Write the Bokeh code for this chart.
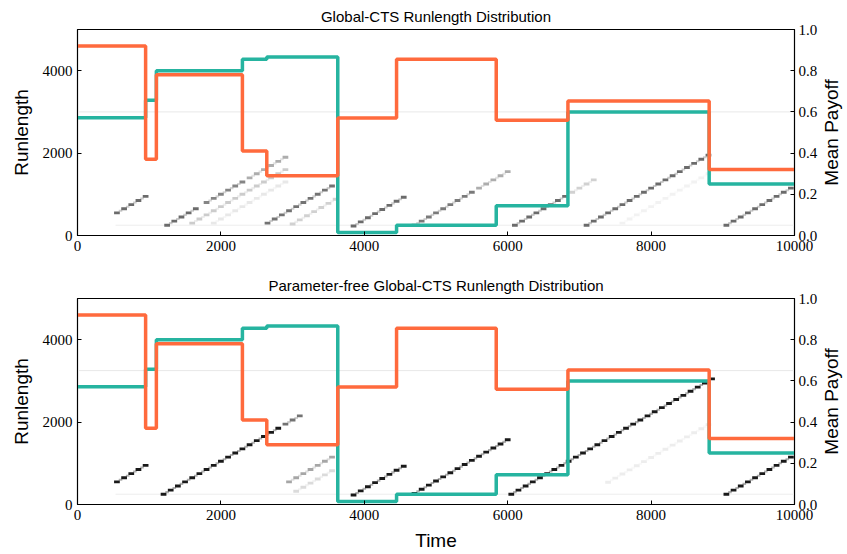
import math

from bokeh.plotting import figure
from bokeh.models import (Range1d, LinearAxis, FixedTicker, PrintfTickFormatter,
                          ColumnDataSource, Label)
from bokeh.layouts import column, row
from bokeh.embed import file_html
from bokeh.resources import INLINE

# Times at which the arms' mean payoffs change (last entry closes the final step)
change_times = [0, 950, 1100, 2300, 2640, 3630, 4450, 5840, 6840, 8810, 10000]
orange_payoff = [0.92, 0.37, 0.78, 0.41, 0.29, 0.57, 0.855, 0.56, 0.653, 0.32, 0.32]
teal_payoff = [0.572, 0.657, 0.80, 0.855, 0.867, 0.015, 0.05, 0.145, 0.60, 0.25, 0.25]

# Runlength traces: (changepoint, first time, last time, darkness 0..1)
gcts_traces = [
    (0, 550, 950, 0.58),
    (1000, 1250, 1700, 0.58),
    (1000, 1800, 2300, 0.48),
    (1000, 2400, 2900, 0.32),
    (1300, 1600, 2900, 0.20),
    (1600, 1900, 2900, 0.09),
    (2350, 2650, 3600, 0.55),
    (2720, 3000, 3600, 0.18),
    (3620, 3850, 4600, 0.58),
    (4450, 4700, 5500, 0.52),
    (4450, 5600, 6000, 0.32),
    (5850, 6100, 6850, 0.58),
    (5850, 6900, 7200, 0.18),
    (6850, 7100, 8850, 0.58),
    (7300, 7600, 8800, 0.05),
    (8800, 9050, 10000, 0.58),
]
free_traces = [
    (0, 550, 950, 0.90),
    (950, 1200, 2800, 0.90),
    (950, 2900, 3100, 0.55),
    (2400, 2950, 3600, 0.35),
    (2730, 3050, 3600, 0.14),
    (3620, 3850, 4600, 0.90),
    (4430, 4700, 6000, 0.90),
    (5800, 6050, 8850, 0.90),
    (6860, 7400, 8800, 0.07),
    (8800, 9050, 10000, 0.90),
]
# Faint constant rows of the distribution: (runlength, from, to, darkness)
gcts_rows = [(250, 530, 10000, 0.07), (3000, 0, 10000, 0.09)]
free_rows = [(250, 530, 10000, 0.07), (3250, 0, 10000, 0.09)]

ORANGE = "#FF6A3D"
TEAL = "#26B4A0"
SANS = "Liberation Sans"
SERIF = "Liberation Serif"
MAIN_W = 822


def gray(d):
    v = int(round(255 * (1 - d)))
    return "#%02x%02x%02x" % (v, v, v)


def trace_cells(traces):
    # each time bin gets a dark cell plus a lighter cell bridging to the next step
    xs, ys, cs, hx, hy, hc = [], [], [], [], [], []
    for cp, t0, t1, dark in traces:
        for t in range(t0, t1 + 1, 100):
            xs.append(t)
            ys.append(t - cp)
            cs.append(gray(dark))
            if t + 100 <= t1:
                hx.append(t + 50)
                hy.append(t - cp + 50)
                hc.append(gray(dark * 0.35))
    return ColumnDataSource(dict(x=xs, y=ys, c=cs)), ColumnDataSource(dict(x=hx, y=hy, c=hc))


def side_title(text, height, border_top, border_bottom):
    # narrow strip carrying the right-hand axis title, reading bottom to top
    s = figure(width=847 - MAIN_W, height=height, output_backend="svg", toolbar_location=None,
               x_range=Range1d(0, 1), y_range=Range1d(0, 1),
               min_border_left=0, min_border_right=0, min_border_top=border_top,
               min_border_bottom=border_bottom)
    s.axis.visible = False
    s.grid.visible = False
    s.outline_line_color = None
    s.add_layout(Label(x=0.5, y=0.5, x_offset=-4, text=text, angle=math.pi / 2,
                       text_align="center", text_baseline="middle", text_font=SANS,
                       text_font_size="19px", text_color="black"))
    return s


def panel(title, traces, rows, height, border_top, border_bottom, show_xlabel):
    p = figure(width=MAIN_W, height=height, output_backend="svg", toolbar_location=None,
               x_range=Range1d(0, 10000), y_range=Range1d(0, 5000),
               min_border_left=77, min_border_right=28, min_border_top=border_top,
               min_border_bottom=border_bottom, title=title)
    p.title.align = "center"
    p.title.text_font = SANS
    p.title.text_font_size = "15px"
    p.title.text_font_style = "normal"
    p.title.text_color = "black"
    p.title.standoff = 9
    p.xgrid.visible = False
    p.ygrid.visible = False
    p.outline_line_color = "black"
    p.outline_line_width = 1.2
    p.background_fill_color = "white"

    p.extra_y_ranges = {"payoff": Range1d(0, 1)}

    def style(ax):
        ax.major_tick_in = 4
        ax.major_tick_out = 0
        ax.minor_tick_line_color = None
        ax.axis_line_color = "black"
        ax.major_tick_line_color = "black"
        ax.major_label_text_font = SERIF
        ax.major_label_text_font_size = "15px"
        ax.major_label_text_color = "black"
        ax.major_label_standoff = 5
        ax.axis_label_text_font = SANS
        ax.axis_label_text_font_size = "19px"
        ax.axis_label_text_font_style = "normal"
        ax.axis_label_text_color = "black"

    xa = p.xaxis[0]
    style(xa)
    xa.ticker = FixedTicker(ticks=[0, 2000, 4000, 6000, 8000, 10000])
    xa.formatter = PrintfTickFormatter(format="%d")
    if show_xlabel:
        xa.axis_label = "Time"
        xa.axis_label_standoff = 7

    ya = p.yaxis[0]
    style(ya)
    ya.ticker = FixedTicker(ticks=[0, 2000, 4000])
    ya.formatter = PrintfTickFormatter(format="%d")
    ya.axis_label = "Runlength"
    ya.axis_label_standoff = 8

    ra = LinearAxis(y_range_name="payoff")
    style(ra)
    ra.ticker = FixedTicker(ticks=[0, 0.2, 0.4, 0.6, 0.8, 1.0])
    ra.formatter = PrintfTickFormatter(format="%.1f")
    ra.major_label_standoff = 4
    p.add_layout(ra, "right")

    # runlength distribution
    for r, a, b, dark in rows:
        p.segment(x0=[a], y0=[r], x1=[b], y1=[r], line_color=gray(dark), line_width=1)
    cells, bridges = trace_cells(traces)
    p.rect(x="x", y="y", width=50, height=50, fill_color="c", line_color=None, source=bridges)
    p.rect(x="x", y="y", width=80, height=70, fill_color="c", line_color=None, source=cells)

    # mean payoffs of the two arms
    p.step(change_times, teal_payoff, mode="after", line_color=TEAL, line_width=3.5,
           y_range_name="payoff")
    p.step(change_times, orange_payoff, mode="after", line_color=ORANGE, line_width=3.5,
           y_range_name="payoff")
    return row(p, side_title("Mean Payoff", height, border_top, border_bottom), spacing=0)


r1 = panel("Global-CTS Runlength Distribution", gcts_traces, gcts_rows, 270, 29, 35, False)
r2 = panel("Parameter-free Global-CTS Runlength Distribution", free_traces, free_rows, 284, 28, 50, True)

p = column(r1, r2, spacing=0)
open("out.html", "w").write(file_html(p, INLINE))
